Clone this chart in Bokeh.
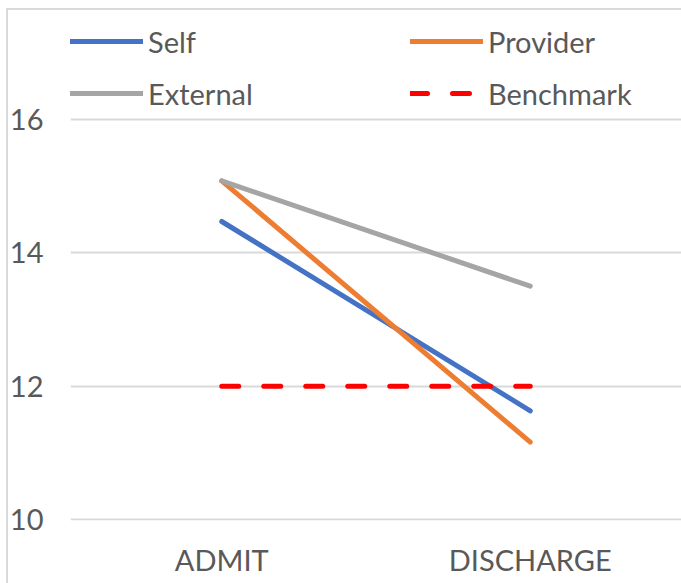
from bokeh.plotting import figure
from bokeh.models import Range1d, FactorRange, Legend, LegendItem, FixedTicker
from bokeh.embed import file_html
from bokeh.resources import INLINE

categories = ["ADMIT", "DISCHARGE"]
self_vals = [14.47, 11.63]
provider_vals = [15.08, 11.16]
external_vals = [15.08, 13.50]
benchmark_vals = [12.0, 12.0]
y_ticks = [10, 12, 14, 16]

FONT = "Lato"
TEXT = "#595959"

p = figure(
    width=675, height=575,
    x_range=FactorRange(*categories, range_padding=-0.0097),
    y_range=Range1d(9.985, 17.635),
    output_backend="svg", toolbar_location=None,
    min_border_left=64, min_border_right=0, min_border_top=2, min_border_bottom=63,
)
p.styles = {"margin-left": "6px", "margin-top": "8px",
            "box-shadow": "inset 2px 2px 0 0 #D9D9D9"}
p.outline_line_color = None
p.background_fill_color = None
p.border_fill_color = None

r_self = p.line(categories, self_vals, line_color="#4472C4", line_width=5, line_cap="round")
r_prov = p.line(categories, provider_vals, line_color="#ED7D31", line_width=5, line_cap="round")
r_ext = p.line(categories, external_vals, line_color="#A5A5A5", line_width=5, line_cap="round")
r_bench = p.line(categories, benchmark_vals, line_color="#FF0000", line_width=5,
                 line_cap="round", line_dash="17 25")

p.xgrid.grid_line_color = None
p.ygrid.grid_line_color = "#D9D9D9"
p.ygrid.grid_line_width = 2
p.yaxis.ticker = FixedTicker(ticks=y_ticks)

for ax in (p.xaxis, p.yaxis):
    ax.axis_line_color = None
    ax.major_tick_line_color = None
    ax.minor_tick_line_color = None
    ax.major_tick_out = 0
    ax.major_label_text_font = FONT
    ax.major_label_text_font_size = "29px"
    ax.major_label_text_color = TEXT
p.yaxis.major_label_standoff = 27
p.xaxis.major_label_standoff = 21

def make_legend(items, loc):
    lg = Legend(items=items, location=loc, orientation="vertical",
                padding=0, margin=0, spacing=12,
                glyph_width=73, glyph_height=40, label_height=40,
                label_standoff=5, border_line_color=None,
                background_fill_alpha=0,
                label_text_font=FONT, label_text_font_size="29px",
                label_text_color=TEXT)
    return lg

lg1 = make_legend([LegendItem(label="Self", renderers=[r_self]),
                   LegendItem(label="External", renderers=[r_ext])], (0, 407))
lg2 = make_legend([LegendItem(label="Provider", renderers=[r_prov]),
                   LegendItem(label="Benchmark", renderers=[r_bench])], (340, 407))
p.add_layout(lg1, "center")
p.add_layout(lg2, "center")

open("out.html", "w").write(file_html(p, INLINE))
